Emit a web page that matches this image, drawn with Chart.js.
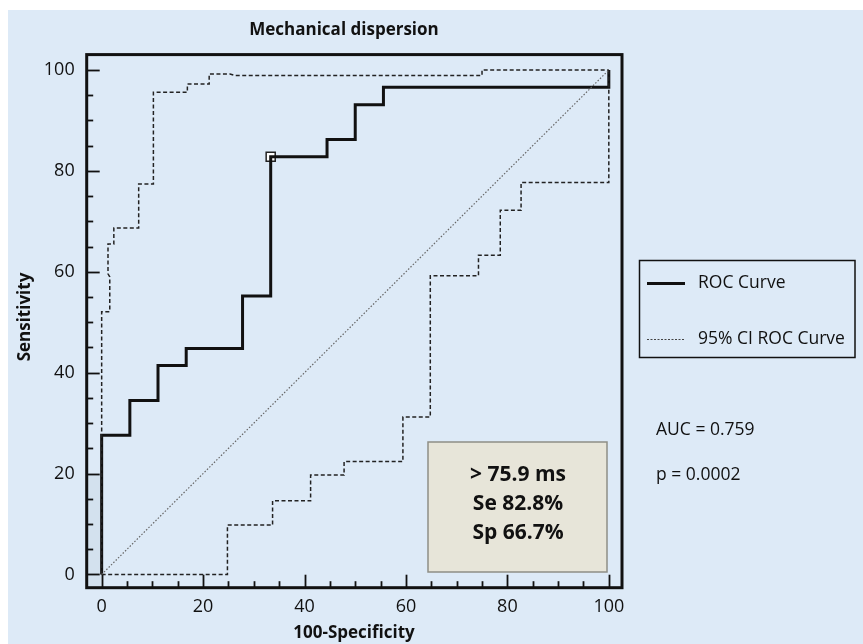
<!DOCTYPE html>
<html><head><meta charset="utf-8">
<style>html,body{margin:0;padding:0;background:#fff;}#wrap{position:relative;width:863px;height:644px;}canvas{display:block;}</style>
<script src="https://cdn.jsdelivr.net/npm/chart.js@4/dist/chart.umd.min.js"></script>
</head><body><div id="wrap"><canvas id="c" width="863" height="644"></canvas></div>
<script>
// ---- data ----
const chartTitle = 'Mechanical dispersion';
const xAxisTitle = '100-Specificity';
const yAxisTitle = 'Sensitivity';
const xTickValues = [0, 20, 40, 60, 80, 100];
const yTickValues = [0, 20, 40, 60, 80, 100];
const minorTickStep = 5;
const rocX = [0, 0, 5.56, 5.56, 11.11, 11.11, 16.67, 16.67, 27.78, 27.78, 33.33, 33.33, 44.44, 44.44, 50, 50, 55.56, 55.56, 100, 100];
const rocY = [0, 27.6, 27.6, 34.5, 34.5, 41.4, 41.4, 44.8, 44.8, 55.2, 55.2, 82.8, 82.8, 86.2, 86.2, 93.1, 93.1, 96.6, 96.6, 100];
const ciUpperX = [0, 0, 1.6, 1.6, 1.25, 1.25, 2.4, 2.4, 7.3, 7.3, 10.2, 10.2, 16.9, 16.9, 21.2, 21.2, 25.3, 26.3, 75.0, 75.0, 100];
const ciUpperY = [0, 52.1, 52.1, 59.0, 59.6, 65.5, 65.5, 68.7, 68.7, 77.4, 77.4, 95.6, 95.6, 97.2, 97.2, 99.2, 99.2, 98.9, 98.9, 100, 100];
const ciLowerX = [0, 24.8, 24.8, 33.7, 33.7, 41.2, 41.2, 47.8, 47.8, 59.4, 59.4, 64.8, 64.8, 74.3, 74.3, 78.6, 78.6, 82.7, 82.7, 100, 100];
const ciLowerY = [0, 0, 9.8, 9.8, 14.6, 14.6, 19.7, 19.7, 22.4, 22.4, 31.2, 31.2, 59.2, 59.2, 63.3, 63.3, 72.2, 72.2, 77.7, 77.7, 100];
const referenceX = [0, 100];
const referenceY = [0, 100];
const cutoffX = [33.33];
const cutoffY = [82.8];
const criterionLines = ['> 75.9 ms', 'Se 82.8%', 'Sp 66.7%'];
const legendLabels = ['ROC Curve', '95% CI ROC Curve'];
const statLines = ['AUC = 0.759', 'p = 0.0002'];

const pts = (xs, ys) => xs.map((v, i) => ({x: v, y: ys[i]}));
const FONT = "'Open Sans', sans-serif";
Chart.defaults.font.family = FONT;

const decor = {
  id: 'decor',
  beforeDraw(chart) {
    const {ctx, chartArea: a, scales: {x, y}} = chart;
    ctx.save();
    ctx.fillStyle = '#ffffff';
    ctx.fillRect(0, 0, chart.width, chart.height);
    ctx.fillStyle = '#ddeaf7';
    ctx.fillRect(8, 10, chart.width - 8, chart.height - 10);
    const x0 = x.getPixelForValue(0), y20 = y.getPixelForValue(20);
    ctx.fillStyle = '#d3e1ee';
    ctx.fillRect(a.left, y20, x0 - a.left, a.bottom - y20);
    ctx.restore();
  },
  afterDatasetsDraw(chart) {
    const {ctx, chartArea: a, scales: {x, y}} = chart;
    ctx.save();
    // ticks
    ctx.strokeStyle = '#111';
    ctx.lineWidth = 1.8;
    for (let v = 0; v <= 100; v += minorTickStep) {
      const major = v % 20 === 0;
      const len = major ? 13 : 6.5;
      const py = Math.round(y.getPixelForValue(v)) + 0.5;
      ctx.beginPath(); ctx.moveTo(a.left, py); ctx.lineTo(a.left + len, py); ctx.stroke();
      const px = Math.round(x.getPixelForValue(v)) + 0.5;
      ctx.beginPath(); ctx.moveTo(px, a.bottom); ctx.lineTo(px, a.bottom - len); ctx.stroke();
    }
    // frame
    ctx.lineWidth = 3;
    ctx.strokeStyle = '#111';
    ctx.strokeRect(a.left, a.top, a.right - a.left, a.bottom - a.top);

    // criterion box
    ctx.fillStyle = '#e7e5d9';
    ctx.fillRect(428, 442, 179, 130);
    ctx.lineWidth = 1.5;
    ctx.strokeStyle = '#8e8e86';
    ctx.strokeRect(428, 442, 179, 130);
    ctx.fillStyle = '#111';
    ctx.font = "700 21px " + FONT;
    ctx.textAlign = 'center';
    ctx.textBaseline = 'middle';
    criterionLines.forEach((t, i) => ctx.fillText(t, 518, 475 + i * 29));

    // legend
    ctx.lineWidth = 1.5;
    ctx.strokeStyle = '#111';
    ctx.strokeRect(639.5, 260.5, 215.5, 97);
    ctx.beginPath(); ctx.lineWidth = 3; ctx.strokeStyle = '#111';
    ctx.moveTo(647, 283.5); ctx.lineTo(685, 283.5); ctx.stroke();
    ctx.beginPath(); ctx.lineWidth = 1.2; ctx.strokeStyle = '#444'; ctx.setLineDash([2, 1.5]);
    ctx.moveTo(647, 339.5); ctx.lineTo(685, 339.5); ctx.stroke();
    ctx.setLineDash([]);
    ctx.fillStyle = '#111';
    ctx.font = "17.5px " + FONT;
    ctx.textAlign = 'left';
    ctx.fillText(legendLabels[0], 698, 283);
    ctx.fillText(legendLabels[1], 698, 339);

    // stats
    ctx.fillText(statLines[0], 656, 430);
    ctx.fillText(statLines[1], 656, 475);

    // titles
    ctx.font = "700 17px " + FONT;
    ctx.textAlign = 'center';
    ctx.fillText(chartTitle, 344, 30);
    ctx.fillText(xAxisTitle, 354, 633);
    ctx.translate(25, 317);
    ctx.rotate(-Math.PI / 2);
    ctx.fillText(yAxisTitle, 0, 0);
    ctx.restore();
  }
};

new Chart(document.getElementById('c'), {
  type: 'scatter',
  data: {
    datasets: [
      {label: 'Reference', data: pts(referenceX, referenceY), showLine: true, borderColor: '#666', borderWidth: 1.2, borderDash: [1.5, 1.8], pointRadius: 0},
      {label: '95% CI upper', data: pts(ciUpperX, ciUpperY), showLine: true, borderColor: '#222', borderWidth: 1.5, borderDash: [4, 2.5], pointRadius: 0},
      {label: '95% CI lower', data: pts(ciLowerX, ciLowerY), showLine: true, borderColor: '#222', borderWidth: 1.5, borderDash: [4, 2.5], pointRadius: 0},
      {label: 'ROC Curve', data: pts(rocX, rocY), showLine: true, borderColor: '#111', borderWidth: 3, pointRadius: 0, borderJoinStyle: 'miter'},
      {label: 'Cutoff', data: pts(cutoffX, cutoffY), showLine: false, pointStyle: 'rect', pointRadius: 6.4, backgroundColor: '#fff', borderColor: '#222', borderWidth: 1.5}
    ]
  },
  options: {
    responsive: false,
    animation: false,
    layout: {padding: {left: 0, top: 54.6, right: 241, bottom: 0}},
    plugins: {legend: {display: false}, tooltip: {enabled: false}, title: {display: false}},
    scales: {
      x: {
        type: 'linear', min: -2.95, max: 102.6,
        afterBuildTicks: s => { s.ticks = xTickValues.map(v => ({value: v})); },
        afterFit: s => { s.height = 56.3; },
        grid: {display: false, drawTicks: false},
        border: {display: false},
        ticks: {color: '#111', font: {size: 18}, padding: 8, maxRotation: 0, autoSkip: false}
      },
      y: {
        type: 'linear', min: -2.62, max: 103.05,
        afterBuildTicks: s => { s.ticks = yTickValues.map(v => ({value: v})); },
        afterFit: s => { s.width = 86.7; },
        grid: {display: false, drawTicks: false},
        border: {display: false},
        ticks: {color: '#111', font: {size: 18}, padding: 12, autoSkip: false}
      }
    }
  },
  plugins: [decor]
});
</script></body></html>
